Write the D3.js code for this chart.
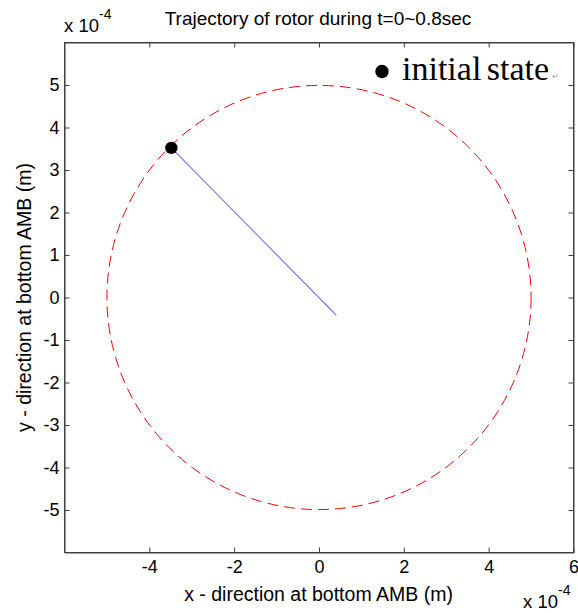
<!DOCTYPE html>
<html><head><meta charset="utf-8">
<script src="https://cdn.jsdelivr.net/npm/d3@7"></script>
<style>
body{margin:0;background:#fff;}
text{font-family:Arial,"Liberation Sans",sans-serif;}
</style></head>
<body>
<svg id="c" width="578" height="613"></svg>
<script>
// Data (units of 1e-4 m)
const xDomain = [-6, 6];
const yDomain = [-6, 6];
const xTicks = [-4, -2, 0, 2, 4, 6];
const yTicks = [-5, -4, -3, -2, -1, 0, 1, 2, 3, 4, 5];
const boundaryRadius = [5];
const trajX = [-3.48, 0.41, 0.10, 0.14];
const trajY = [3.52, -0.42, -0.10, -0.15];
const initialState = [[-3.48, 3.52]];
const titleText = "Trajectory of rotor during t=0~0.8sec";

const svg = d3.select("#c");
const L = 64.5, R = 573.5, T = 42.5, B = 552.5;
const x = d3.scaleLinear().domain(xDomain).range([L, R]);
const y = d3.scaleLinear().domain(yDomain).range([B, T]);
const axisColor = "#404040";

// boundary circle
svg.selectAll("circle.bound").data(boundaryRadius).join("circle")
  .attr("class","bound")
  .attr("cx", x(0)).attr("cy", y(0))
  .attr("r", d => x(d) - x(0))
  .attr("fill","none").attr("stroke","#ff0000").attr("stroke-width",1)
  .attr("stroke-dasharray","11,6");

// trajectory
const traj = trajX.map((v,i)=>[v, trajY[i]]);
svg.append("path").datum(traj)
  .attr("d", d3.line().x(d=>x(d[0])).y(d=>y(d[1])))
  .attr("fill","none").attr("stroke","#7676ff").attr("stroke-width",1.2);

// initial state marker
svg.selectAll("circle.init").data(initialState).join("circle")
  .attr("class","init")
  .attr("cx", d=>x(d[0])).attr("cy", d=>y(d[1])).attr("r",6.2).attr("fill","#000");

// axes
function style(g){
  g.selectAll("path").attr("stroke", axisColor);
  g.selectAll("line").attr("stroke", axisColor);
  g.selectAll("text").attr("fill","#000").style("font-size","18px").style("font-family","Arial,'Liberation Sans',sans-serif");
}
svg.append("g").attr("transform",`translate(0,${B})`)
  .call(d3.axisBottom(x).tickValues(xTicks).tickSizeInner(-5).tickSizeOuter(0).tickPadding(8).tickFormat(d3.format("d")))
  .call(style).call(g=>g.selectAll("text").text(d=> d<0 ? "-"+Math.abs(d) : d));
svg.append("g").attr("transform",`translate(0,${T})`)
  .call(d3.axisTop(x).tickValues(xTicks).tickSizeInner(-5).tickSizeOuter(0).tickFormat(""))
  .call(style);
svg.append("g").attr("transform",`translate(${L},0)`)
  .call(d3.axisLeft(y).tickValues(yTicks).tickSizeInner(-5).tickSizeOuter(0).tickPadding(5))
  .call(style).call(g=>g.selectAll("text").text(d=> d<0 ? "-"+Math.abs(d) : d));
svg.append("g").attr("transform",`translate(${R},0)`)
  .call(d3.axisRight(y).tickValues(yTicks).tickSizeInner(-5).tickSizeOuter(0).tickFormat(""))
  .call(style);
svg.append("rect").attr("x",L).attr("y",T).attr("width",R-L).attr("height",B-T)
  .attr("fill","none").attr("stroke",axisColor).attr("stroke-width",1);

// title
svg.append("text").attr("x",318).attr("y",25).attr("text-anchor","middle")
  .style("font-size","19px").text(titleText);

// exponent labels
function expLabel(xp, yp){
  const t = svg.append("text").attr("x",xp).attr("y",yp).style("font-size","18.5px");
  t.append("tspan").text("x 10");
  t.append("tspan").attr("dy",-13).style("font-size","14px").text("-4");
}
expLabel(64, 32);
expLabel(523, 608);

// axis labels
svg.append("text").attr("x",318.5).attr("y",601).attr("text-anchor","middle")
  .style("font-size","19.5px").text("x - direction at bottom AMB (m)");
svg.append("text").attr("transform",`translate(31,${(T+B)/2}) rotate(-90)`).attr("text-anchor","middle")
  .style("font-size","19.5px").text("y - direction at bottom AMB (m)");

// legend
svg.append("circle").attr("cx",382).attr("cy",71.5).attr("r",6.7).attr("fill","#000");
svg.append("text").attr("x",402).attr("y",80)
  .style("font-family","'Times New Roman','Liberation Serif',serif").style("font-size","34px")
  .style("word-spacing","-3px")
  .text("initial state");
svg.append("text").attr("x",552).attr("y",79).attr("fill","#999")
  .style("font-size","8px").text("↵");
</script>
</body></html>
